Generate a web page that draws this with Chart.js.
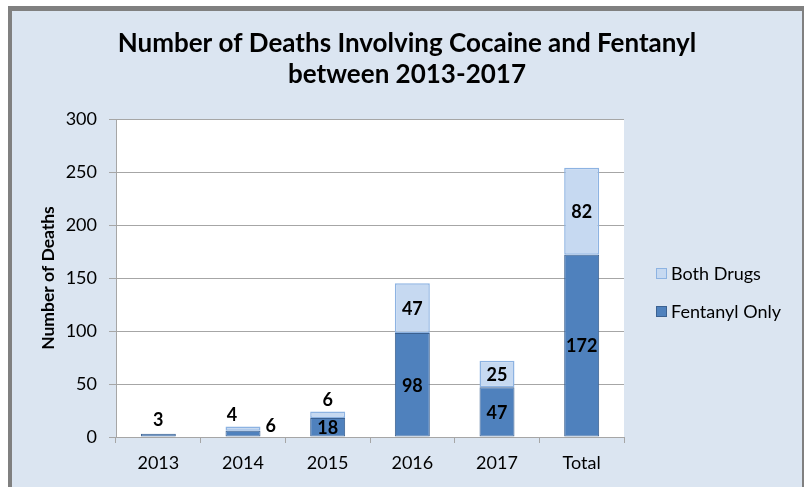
<!DOCTYPE html>
<html>
<head>
<meta charset="utf-8">
<title>Deaths Involving Cocaine and Fentanyl</title>
<script src="https://cdn.jsdelivr.net/npm/chart.js@4.4.1/dist/chart.umd.min.js"></script>
<style>
  html, body { margin: 0; padding: 0; background: #fff; }
  #frame {
    position: absolute; left: 8px; top: 6px; width: 796px; height: 481px;
    box-sizing: border-box; background: #dbe5f1;
    border-top: 5px solid #808080; border-left: 4px solid #808080; border-right: 2px solid #808080;
  }
  #chart { position: absolute; left: 0; top: 0; }
</style>
</head>
<body>
<div id="frame"></div>
<canvas id="chart" width="804" height="487"></canvas>
<script>
// Chart data
const categories = ['2013', '2014', '2015', '2016', '2017', 'Total'];
const fentanylOnly = [3, 6, 18, 98, 47, 172];
const bothDrugs = [0, 4, 6, 47, 25, 82];
const seriesNames = ['Fentanyl Only', 'Both Drugs'];
const yTickValues = [0, 50, 100, 150, 200, 250, 300];
const chartTitle = ['Number of Deaths Involving Cocaine and Fentanyl', 'between 2013-2017'];
const yAxisTitle = 'Number of Deaths';

const FONT = 'Lato, "Open Sans", sans-serif';
const colors = {
  fentanyl: '#4f81bd', fentanylBorder: '#3b6191',
  both: '#c6d9f1', bothBorder: '#8db3e2',
  grid: '#a6a6a6',
};

/**
 * Draws the white plot area, the segment values, the title and the legend.
 */
const decorations = {
  id: 'decorations',
  beforeDraw(chart) {
    const { ctx, chartArea: a } = chart;
    ctx.save();
    ctx.fillStyle = '#fff';
    ctx.fillRect(a.left, a.top, a.right - a.left, a.bottom - a.top);
    ctx.restore();
  },
  afterDatasetsDraw(chart) {
    const { ctx } = chart;
    const low = chart.getDatasetMeta(0).data;
    const high = chart.getDatasetMeta(1).data;
    const minInside = 17;

    ctx.save();
    ctx.font = `bold 18px ${FONT}`;
    ctx.fillStyle = '#000';
    ctx.textBaseline = 'middle';

    categories.forEach((_, i) => {
      const lo = low[i];
      const hi = high[i];
      const loH = Math.abs(lo.base - lo.y);
      const hiH = Math.abs(hi.base - hi.y);
      const loRight = fentanylOnly[i] && loH < minInside && bothDrugs[i] > 0;

      // bottom segment
      if (fentanylOnly[i]) {
        if (loH >= minInside) {
          ctx.textAlign = 'center';
          ctx.fillText(fentanylOnly[i], lo.x, (lo.y + lo.base) / 2 + 1);
        } else if (!bothDrugs[i]) {
          ctx.textAlign = 'center';
          ctx.fillText(fentanylOnly[i], lo.x, lo.y - 14);
        } else {
          ctx.textAlign = 'left';
          ctx.fillText(fentanylOnly[i], lo.x + lo.width / 2 + 5, lo.y - 4);
        }
      }

      // top segment
      if (bothDrugs[i]) {
        ctx.textAlign = 'center';
        if (hiH >= minInside) {
          ctx.fillText(bothDrugs[i], hi.x, (hi.y + hi.base) / 2 + 1);
        } else {
          ctx.fillText(bothDrugs[i], hi.x - (loRight ? 11 : 0), hi.y - 11);
        }
      }
    });
    ctx.restore();
  },
  afterDraw(chart) {
    const { ctx } = chart;
    ctx.save();

    // title
    ctx.fillStyle = '#000';
    ctx.textAlign = 'center';
    ctx.textBaseline = 'middle';
    ctx.font = `bold 26px ${FONT}`;
    chartTitle.forEach((line, k) => ctx.fillText(line, 407, 44 + k * 31));

    // legend (top series first)
    const items = [
      { label: seriesNames[1], fill: colors.both, stroke: colors.bothBorder },
      { label: seriesNames[0], fill: colors.fentanyl, stroke: colors.fentanylBorder },
    ];
    ctx.font = `18px ${FONT}`;
    ctx.textAlign = 'left';
    items.forEach((it, k) => {
      const y = 274 + k * 38;
      ctx.fillStyle = it.fill;
      ctx.fillRect(656, y - 6, 11, 11);
      ctx.strokeStyle = it.stroke;
      ctx.lineWidth = 1;
      ctx.strokeRect(656.5, y - 5.5, 10, 10);
      ctx.fillStyle = '#000';
      ctx.fillText(it.label, 671, y);
    });
    ctx.restore();
  },
};

new Chart(document.getElementById('chart'), {
  type: 'bar',
  data: {
    labels: categories,
    datasets: [
      {
        label: seriesNames[0],
        data: fentanylOnly,
        backgroundColor: colors.fentanyl,
        borderColor: colors.fentanylBorder,
        borderWidth: 1,
        borderSkipped: false,
      },
      {
        label: seriesNames[1],
        data: bothDrugs,
        backgroundColor: colors.both,
        borderColor: colors.bothBorder,
        borderWidth: 1.5,
        borderSkipped: false,
      },
    ],
  },
  options: {
    responsive: false,
    animation: false,
    devicePixelRatio: 1,
    barPercentage: 0.413,
    categoryPercentage: 1,
    layout: { padding: { top: 119, right: 180, bottom: 0, left: 0 } },
    plugins: {
      legend: { display: false },
      title: { display: false },
      tooltip: { enabled: false },
    },
    scales: {
      x: {
        stacked: true,
        grid: {
          offset: true,
          drawOnChartArea: false,
          drawTicks: true,
          tickLength: 6,
          color: colors.grid,
        },
        border: { color: colors.grid },
        ticks: { font: { family: FONT, size: 18 }, color: '#000', padding: 9 },
        afterFit: (s) => { s.height = 50; },
      },
      y: {
        stacked: true,
        min: yTickValues[0],
        max: yTickValues[yTickValues.length - 1],
        afterBuildTicks: (s) => { s.ticks = yTickValues.map((v) => ({ value: v })); },
        grid: { color: colors.grid, tickLength: 7 },
        border: { color: colors.grid },
        ticks: { font: { family: FONT, size: 18 }, color: '#000', padding: 12 },
        title: {
          display: true,
          text: yAxisTitle,
          color: '#000',
          font: { family: FONT, size: 17.5, weight: 'bold' },
          padding: { top: 38, bottom: 0 },
        },
        afterFit: (s) => { s.width = 116; },
      },
    },
  },
  plugins: [decorations],
});
</script>
</body>
</html>
